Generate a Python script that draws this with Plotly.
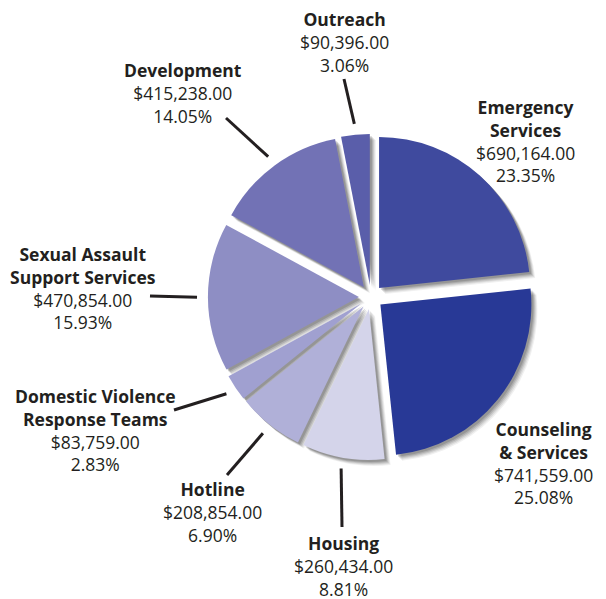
import math
import plotly.graph_objects as go

# ---------------- data ----------------
categories = ["Emergency Services", "Counseling & Services", "Housing", "Hotline",
              "Domestic Violence Response Teams", "Sexual Assault Support Services",
              "Development", "Outreach"]
label_titles = ["Emergency<br>Services", "Counseling<br>& Services", "Housing", "Hotline",
                "Domestic Violence<br>Response Teams", "Sexual Assault<br>Support Services",
                "Development", "Outreach"]
amounts = [690164.00, 741559.00, 260434.00, 208854.00, 83759.00, 470854.00, 415238.00, 90396.00]
percents = [23.35, 25.08, 8.81, 6.90, 2.83, 15.93, 14.05, 3.06]
colors = ["#3f4a9e", "#283996", "#d4d4ea", "#b0b0d8", "#a0a0d0", "#8e8ec4", "#7272b5", "#5a5eaa"]

# ---------------- layout constants (pixels) ----------------
W, H = 606, 599
CX, CY = 371, 297          # pie centre
R = 151                    # pie radius
PULL = 0.08
HALF = R * (1 + PULL)
LEAD_R = 174               # leader line inner radius

# label block centres (pixels)
label_pos = {
    "Emergency Services": (525, 141),
    "Counseling & Services": (543, 463),
    "Housing": (343, 566),
    "Hotline": (212, 512),
    "Domestic Violence Response Teams": (95, 430),
    "Sexual Assault Support Services": (83, 288),
    "Development": (183, 93),
    "Outreach": (345, 42),
}
# leader line outer ends (pixels)
lead_end = {
    "Housing": (342, 527),
    "Hotline": (227, 475),
    "Domestic Violence Response Teams": (174, 410),
    "Sexual Assault Support Services": (150, 296),
    "Development": (226, 118),
    "Outreach": (344, 79),
}

def px(x):
    return x / W

def py(y):
    return 1 - y / H

fig = go.Figure()

# soft shadow layers
for k, op in [(6, 0.06), (5, 0.08), (4, 0.10), (3, 0.12), (2, 0.14)]:
    fig.add_trace(go.Pie(
        values=amounts, labels=categories, sort=False, direction="clockwise", rotation=0,
        pull=[PULL] * len(amounts),
        marker=dict(colors=[f"rgba(0,0,0,{op})"] * len(amounts), line=dict(width=0)),
        textinfo="none", hoverinfo="skip", showlegend=False,
        domain=dict(x=[px(CX - HALF + k), px(CX + HALF + k)],
                    y=[py(CY + HALF + k), py(CY - HALF + k)]),
    ))

fig.add_trace(go.Pie(
    values=amounts, labels=categories, sort=False, direction="clockwise", rotation=0,
    pull=[PULL] * len(amounts),
    marker=dict(colors=colors, line=dict(width=0)),
    textinfo="none", showlegend=False,
    domain=dict(x=[px(CX - HALF), px(CX + HALF)], y=[py(CY + HALF), py(CY - HALF)]),
))

total = sum(amounts)
cum = 0.0
shapes = []
annotations = []
for cat, title, amt, pct in zip(categories, label_titles, amounts, percents):
    mid = (cum + amt / 2) / total * 2 * math.pi
    cum += amt
    if cat in lead_end:
        x0 = CX + LEAD_R * math.sin(mid)
        y0 = CY - LEAD_R * math.cos(mid)
        x1, y1 = lead_end[cat]
        shapes.append(dict(type="line", xref="paper", yref="paper",
                           x0=px(x0), y0=py(y0), x1=px(x1), y1=py(y1),
                           line=dict(color="#231f20", width=3)))
    lx, ly = label_pos[cat]
    annotations.append(dict(
        x=px(lx), y=py(ly), xref="paper", yref="paper", xanchor="center", yanchor="middle",
        showarrow=False, align="center",
        text=f"<b>{title}</b><br>${amt:,.2f}<br>{pct:.2f}%",
        font=dict(family="Open Sans", size=17.5, color="#231f20"),
    ))

fig.update_layout(
    width=W, height=H, margin=dict(l=0, r=0, t=0, b=0),
    paper_bgcolor="white", plot_bgcolor="white",
    shapes=shapes, annotations=annotations, showlegend=False,
)

fig.write_html("out.html", config={"displayModeBar": False},
               post_script="document.body.style.margin='0';")
